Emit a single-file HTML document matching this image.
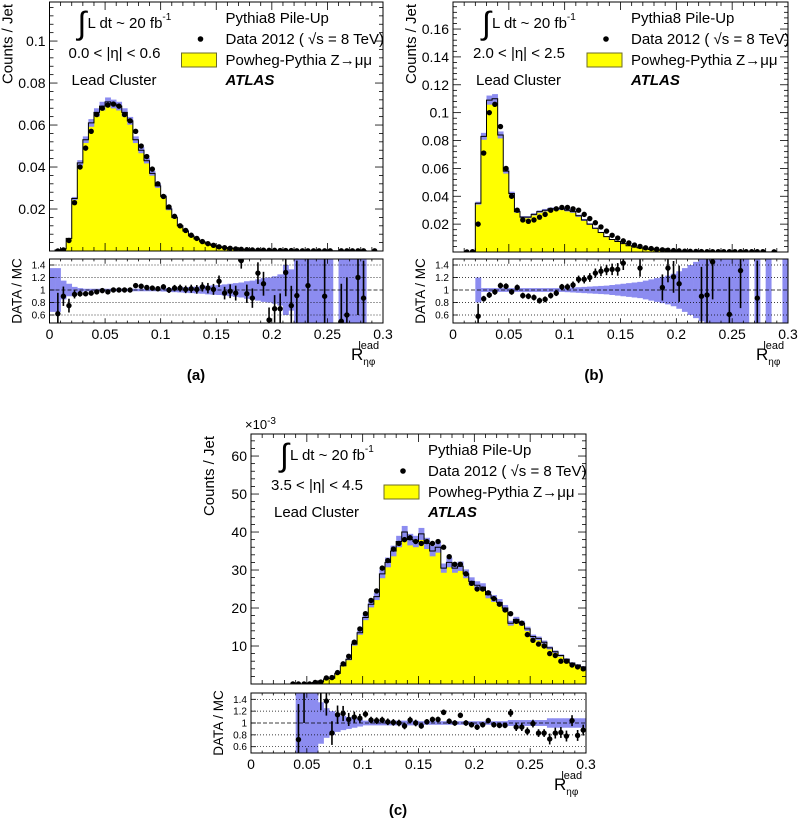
<!DOCTYPE html>
<html><head><meta charset="utf-8"><style>
body{margin:0;background:#fff}
svg text{font-family:"Liberation Sans",sans-serif;fill:#000}
</style></head><body>
<svg id="fig" width="798" height="824" viewBox="0 0 798 824" xmlns="http://www.w3.org/2000/svg"></svg>
<script>
// ---- Panel (a) data: 60 bins of width 0.005 ----
const aData=[null,0,0.0005,0.005,0.023,0.040,0.049,0.057,0.065,0.068,0.0695,0.070,0.069,0.065,0.062,0.057,0.050,0.045,0.039,0.032,0.026,0.021,0.0165,0.012,0.0098,0.0075,0.006,0.0045,0.0035,0.0027,0.002,0.0016,0.0013,0.001,0.0008,0.0006,0.0005,0.0004,0.0004,0.0003,0.0003,0.0002,0.0002,0.0002,0.0001,0.0001,0.0001,0.0001,0.0001,0.0001,0.0001,null,0.0001,0.0001,0.0001,0.0001,0.0001,null,0.0001,null];
const aMC=[0,0.0005,0.001,0.006,0.025,0.042,0.053,0.061,0.066,0.069,0.071,0.070,0.069,0.066,0.062,0.053,0.048,0.043,0.037,0.031,0.026,0.020,0.016,0.012,0.0095,0.0072,0.0058,0.0044,0.0034,0.0026,0.002,0.0016,0.0013,0.001,0.0008,0.0006,0.0005,0.0004,0.0003,0.0003,0.0002,0.0002,0.0002,0.0001,0.0001,0.0001,0.0001,0.0001,0.0001,0.0001,0.0001,0.0001,0.0001,0.0001,0.0001,0.0001,0.0001,0,0,0];
const aRatio=[null,0.62,0.9,0.75,0.93,0.94,0.94,0.95,0.97,0.99,0.97,1.0,1.0,1.0,1.0,1.07,1.06,1.04,1.03,1.02,1.05,1.0,1.03,1.03,1.01,1.02,1.01,1.05,1.03,1.01,1.14,0.95,0.98,0.95,1.47,0.94,0.87,1.27,1.1,0.52,0.7,0.7,1.28,0.75,0.91,null,1.07,null,null,0.9,null,null,0.5,0.6,null,1.2,0.87,null,null,null];
const aBand=[0.35,0.35,0.15,0.1,0.05,0.03,0.02,0.02,0.02,0.02,0.02,0.02,0.02,0.02,0.02,0.02,0.02,0.02,0.02,0.02,0.025,0.03,0.035,0.04,0.045,0.05,0.055,0.06,0.07,0.075,0.08,0.09,0.1,0.11,0.12,0.14,0.15,0.17,0.19,0.2,0.22,0.25,0.4,0.33,0.6,0.8,0.8,0.8,0.8,0.8,0.8,null,0.8,0.8,0.8,0.8,0.8,null,null,null];
const aTicks=[0.02,0.04,0.06,0.08,0.1];
const aTickLabels=["0.02","0.04","0.06","0.08","0.1"];
// ---- Panel (b) ----
const bData=[null,null,0,0.0002,0.02,0.071,0.1,0.106,0.09,0.06,0.04,0.03,0.023,0.022,0.023,0.025,0.027,0.03,0.031,0.032,0.032,0.031,0.03,0.027,0.024,0.021,0.018,0.015,0.012,0.01,0.008,0.0065,0.005,0.004,0.003,0.0025,0.002,0.0016,0.0013,0.001,0.0008,0.0006,0.0005,0.0004,0.0003,0.0002,0.0002,0.0002,0.0002,0.0002,0.0002,0.0002,0.0002,0.0002,0.0002,0.0002,null,0.0001,null,null];
const bMC=[0,0,0,0,0.035,0.083,0.109,0.11,0.084,0.058,0.042,0.029,0.025,0.025,0.027,0.029,0.030,0.031,0.031,0.031,0.030,0.029,0.026,0.023,0.020,0.017,0.014,0.011,0.009,0.0075,0.006,0.0045,0.0035,0.003,0.0022,0.0018,0.0015,0.0012,0.001,0.0008,0.0006,0.0005,0.0004,0.0003,0.0003,0.0002,0.0002,0.0002,0.0002,0.0002,0.0001,0.0001,0.0001,0.0001,0.0001,0.0001,0.0001,0,0,0];
const bRatio=[null,null,null,null,0.58,0.86,0.92,0.97,1.07,1.06,0.97,1.04,0.91,0.9,0.88,0.83,0.85,0.91,0.95,1.05,1.05,1.08,1.17,1.17,1.2,1.27,1.3,1.32,1.33,1.33,1.43,null,null,1.35,null,null,null,1.04,1.35,1.21,1.1,null,null,null,0.9,0.92,1.45,null,null,0.61,null,1.31,null,null,0.87,null,null,null,null,null];
const bBand=[null,null,null,null,0.2,0.03,0.03,0.03,0.03,0.03,0.03,0.03,0.03,0.03,0.03,0.03,0.03,0.03,0.03,0.03,0.035,0.04,0.045,0.05,0.055,0.06,0.065,0.07,0.08,0.09,0.1,0.11,0.12,0.13,0.15,0.17,0.19,0.21,0.23,0.26,0.3,0.35,0.4,0.45,0.5,0.8,0.8,0.8,0.8,0.8,0.8,0.8,0.8,null,0.8,null,0.8,null,null,0.8];
const bTicks=[0.02,0.04,0.06,0.08,0.1,0.12,0.14,0.16];
const bTickLabels=["0.02","0.04","0.06","0.08","0.1","0.12","0.14","0.16"];
// ---- Panel (c), values x 1e-3 ----
const cData=[null,null,null,null,null,null,null,0,0,0,0,0.4,0.5,1.6,1.7,3,5.3,7.3,11,14.5,18.5,22,24.5,30.5,32.5,35.5,37,38,38.5,37.5,37,37.5,37,37.5,36,33.5,31.5,31.5,29,26.5,25,25,24,22.5,21,19.5,18.5,16.5,16,13,11.5,10.5,10,8,7.5,6,6,5,4.5,4];
const cMC=[0,0,0,0,0,0,0,0,0,0,0.2,0.4,0.6,1.3,1.5,2.8,4.8,6.5,10.5,13.5,17.5,21,23,29,32,35,37.5,40,38,37.5,39.5,37,35,36,30.5,32,30.5,31,29,27,26,25.5,23.5,22.5,21.5,20,16,17,16,14.5,12.5,12,11,9.5,8.5,7.5,6.5,5.5,5,4.5];
const cRatio=[null,null,null,null,null,null,null,null,0.72,1.6,null,null,1.55,1.37,0.83,1.14,1.16,1.06,1.1,1.08,1.15,1.05,1.04,1.05,1.02,1.01,1.0,0.95,1.05,1.0,0.95,1.02,1.06,1.06,1.18,1.03,1.0,1.13,1.0,0.97,0.93,0.97,1.04,0.97,0.96,0.96,1.17,0.93,0.93,0.86,0.99,0.83,0.83,0.73,0.83,0.84,0.78,1.04,0.79,0.88];
const cBand=[null,null,null,null,null,null,null,null,0.8,0.8,0.8,0.8,0.35,0.25,0.2,0.15,0.12,0.1,0.08,0.06,0.04,0.04,0.04,0.04,0.04,0.04,0.04,0.04,0.04,0.04,0.03,0.03,0.03,0.03,0.03,0.03,0.03,0.03,0.03,0.03,0.03,0.03,0.03,0.03,0.03,0.03,0.05,0.05,0.05,0.05,0.05,0.05,0.05,0.08,0.08,0.08,0.08,0.08,0.08,0.08];
const cTicks=[10,20,30,40,50,60];
const cTickLabels=["10","20","30","40","50","60"];
const xTicks=[0,0.05,0.1,0.15,0.2,0.25,0.3];
const xTickLabels=["0","0.05","0.1","0.15","0.2","0.25","0.3"];
const rTicks=[0.6,0.8,1,1.2,1.4];
const rTickLabels=["0.6","0.8","1","1.2","1.4"];
const BIN=0.005, NB=60;

const NS="http://www.w3.org/2000/svg";
const svg=document.getElementById('fig');
function mk(tag,attrs,parent,txt){const e=document.createElementNS(NS,tag);for(const k in attrs)e.setAttribute(k,attrs[k]);if(txt!==undefined)e.textContent=txt;(parent||svg).appendChild(e);return e;}

function panel(P){
  const g=mk('g',{});
  
  
  const X=v=>P.x0+(v/0.3)*(P.x1-P.x0);
  const Y=v=>P.bot-(v/P.ymax)*(P.bot-P.top);
  const R=v=>P.rmid-(v-1)/0.2*P.rstep;
  const clipId='clip'+P.id, rclipId='rclip'+P.id;
  const defs=mk('defs',{},g);
  const cp=mk('clipPath',{id:clipId},defs);mk('rect',{x:P.x0,y:P.top,width:P.x1-P.x0,height:P.bot-P.top},cp);
  const rcp=mk('clipPath',{id:rclipId},defs);mk('rect',{x:P.x0,y:P.rtop,width:P.x1-P.x0,height:P.rbot-P.rtop},rcp);
  const mg=mk('g',{'clip-path':`url(#${clipId})`},g);
  let d=`M${X(0)},${Y(0)}`;
  for(let i=0;i<NB;i++){d+=` L${X(i*BIN)},${Y(P.mc[i])} L${X((i+1)*BIN)},${Y(P.mc[i])}`;}
  d+=` L${X(0.3)},${Y(0)} Z`;
  const hist=mk('path',{d:d,fill:'#ffff00',stroke:'none'},mg);
  
  
  for(let i=0;i<NB;i++){
    if(!P.mc[i])continue;
    const u=P.mc[i]*P.unc;
    const r=mk('rect',{x:X(i*BIN),y:Y(P.mc[i]+u),width:X(BIN)-X(0)+0.3,height:Math.max(0.5,Y(P.mc[i]-u)-Y(P.mc[i]+u)),fill:'#8c8cf0'},mg);
    
    
  }
  let s=`M${X(0)},${Y(0)}`;
  for(let i=0;i<NB;i++){s+=` L${X(i*BIN)},${Y(P.mc[i])} L${X((i+1)*BIN)},${Y(P.mc[i])}`;}
  mk('path',{d:s,fill:'none',stroke:'#000','stroke-width':1},mg);
  for(let i=0;i<NB;i++){
    if(P.data[i]===null)continue;
    const c=mk('circle',{cx:X((i+0.5)*BIN),cy:Y(P.data[i]),r:2.7,fill:'#000'},mg);
    
    
  }
  const rg=mk('g',{'clip-path':`url(#${rclipId})`},g);
  for(let i=0;i<NB;i++){
    if(P.band[i]===null)continue;
    const r=mk('rect',{x:X(i*BIN),y:R(1+P.band[i]),width:X(BIN)-X(0)+0.3,height:R(1-P.band[i])-R(1+P.band[i]),fill:'#8c8cf0'},rg);
    
    
  }
  rTicks.forEach(t=>{mk('line',{x1:P.x0,x2:P.x1,y1:R(t),y2:R(t),stroke:'#000','stroke-width':0.7,'stroke-dasharray':t===1?'4,2':'1,2'},rg);});
  for(let i=0;i<NB;i++){
    if(P.ratio[i]===null)continue;
    const cx=X((i+0.5)*BIN), e=Math.min(0.6,P.band[i]===null?0.1:P.band[i]*0.9+0.02);
    mk('line',{x1:cx,x2:cx,y1:R(P.ratio[i]-e),y2:R(P.ratio[i]+e),stroke:'#000','stroke-width':1.6},rg);
    const c=mk('circle',{cx:cx,cy:R(P.ratio[i]),r:2.7,fill:'#000'},rg);
    
    
  }
  mk('rect',{x:P.x0,y:P.top,width:P.x1-P.x0,height:P.bot-P.top,fill:'none',stroke:'#000','stroke-width':1},g);
  mk('rect',{x:P.x0,y:P.rtop,width:P.x1-P.x0,height:P.rbot-P.rtop,fill:'none',stroke:'#000','stroke-width':1},g);
  for(let k=0;k<=30;k++){
    const v=k*0.01, big=(k%5===0), L=big?8:4;
    [[P.bot,-1],[P.top,1],[P.rbot,-1],[P.rtop,1]].forEach(([yy,dir])=>{
      const LL=(yy===P.rbot||yy===P.rtop)?L*0.6:L;
      mk('line',{x1:X(v),x2:X(v),y1:yy,y2:yy+dir*LL,stroke:'#000','stroke-width':0.8},g);
    });
  }
  xTicks.forEach((t,i)=>{const tx=mk('text',{x:X(t),y:P.rbot+16,'font-size':14,'text-anchor':'middle'},g,xTickLabels[i]);});
  const stepMinor=P.yticks[1]-P.yticks[0];
  for(let k=1;k*stepMinor/5<P.ymax;k++){
    const v=k*stepMinor/5, L=(k%5===0)?8:4;
    mk('line',{x1:P.x0,x2:P.x0+L,y1:Y(v),y2:Y(v),stroke:'#000','stroke-width':0.8},g);
    mk('line',{x1:P.x1,x2:P.x1-L,y1:Y(v),y2:Y(v),stroke:'#000','stroke-width':0.8},g);
  }
  P.yticks.forEach((t,i)=>{const tx=mk('text',{x:P.x0-4,y:Y(t)+5,'font-size':14,'text-anchor':'end'},g,P.ylabels[i]);});
  rTicks.forEach((t,i)=>{mk('line',{x1:P.x0,x2:P.x0+5,y1:R(t),y2:R(t),stroke:'#000','stroke-width':0.8},g);mk('text',{x:P.x0-4,y:R(t)+3.5,'font-size':10,'text-anchor':'end'},g,rTickLabels[i]);});
  const yt=mk('text',{x:0,y:0,'font-size':15,'text-anchor':'end',transform:`translate(${P.x0-37},${P.top+2}) rotate(-90)`},g,'Counts / Jet');
  
  const rt=mk('text',{x:0,y:0,'font-size':13.5,'text-anchor':'middle',transform:`translate(${P.x0-28},${(P.rtop+P.rbot)/2}) rotate(-90)`},g,'DATA / MC');
  
  const xt=mk('text',{x:P.x1-32,y:P.rbot+37,'font-size':17},g);
  
  mk('tspan',{},xt,'R');mk('tspan',{dy:5,'font-size':10},xt,'ηφ');mk('tspan',{dx:-17,dy:-16,'font-size':11},xt,'lead');
  const ax=P.x0+P.ax, ay=P.top;
  mk('text',{x:ax-2,y:ay+32,'font-size':32,'font-family':'Liberation Serif'},g,'∫');
  const lt=mk('text',{x:ax+8,y:ay+26,'font-size':15},g,'L dt ~ 20 fb');
  mk('tspan',{dy:-8,'font-size':10},lt,'-1');
  mk('text',{x:ax-11,y:ay+56,'font-size':15},g,P.eta);
  mk('text',{x:ax-8,y:ay+83,'font-size':15},g,'Lead Cluster');
  const lx=P.x0+P.lx;
  mk('text',{x:lx,y:ay+21,'font-size':15},g,'Pythia8 Pile-Up');
  mk('circle',{cx:lx-25,cy:ay+37,r:2.8,fill:'#000'},g);
  mk('text',{x:lx,y:ay+42,'font-size':15},g,'Data 2012 ( √s = 8 TeV)');
  mk('rect',{x:lx-44,y:ay+51,width:35,height:14,fill:'#ffff00',stroke:'#6b6b2a','stroke-width':1},g);
  mk('text',{x:lx,y:ay+63,'font-size':15},g,'Powheg-Pythia Z→μμ');
  mk('text',{x:lx,y:ay+83,'font-size':15,'font-weight':'bold','font-style':'italic'},g,'ATLAS');
  const lab=mk('text',{x:P.labx,y:P.laby,'font-size':15,'font-weight':'bold','font-family':'Liberation Serif','text-anchor':'middle'},g,P.label);
  
  if(P.exp){const e=mk('text',{x:P.x0-6,y:P.top-5,'font-size':13},g,'×10');mk('tspan',{dy:-5,'font-size':10},e,'-3');}
}

panel({id:'a',name:'panel-a',x0:49.5,x1:383,top:2,bot:251,ymax:0.1186,rtop:259,rbot:323,rmid:290,rstep:12.5,
  data:aData,mc:aMC,ratio:aRatio,band:aBand,yticks:aTicks,ylabels:aTickLabels,unc:0.03,ax:30,lx:176,eta:'0.0 < |η| < 0.6',label:'(a)',labx:196,laby:380});
panel({id:'b',name:'panel-b',x0:453,x1:788,top:2,bot:252,ymax:0.1794,rtop:259,rbot:323,rmid:290,rstep:12.5,
  data:bData,mc:bMC,ratio:bRatio,band:bBand,yticks:bTicks,ylabels:bTickLabels,unc:0.03,ax:31,lx:178,eta:'2.0 < |η| < 2.5',label:'(b)',labx:594,laby:380});
panel({id:'c',name:'panel-c',x0:251,x1:586,top:434,bot:684,ymax:65.8,rtop:693,rbot:753,rmid:723,rstep:11.85,exp:true,
  data:cData,mc:cMC,ratio:cRatio,band:cBand,yticks:cTicks,ylabels:cTickLabels,unc:0.04,ax:31,lx:177,eta:'3.5 < |η| < 4.5',label:'(c)',labx:398,laby:815});
</script>
</body></html>
